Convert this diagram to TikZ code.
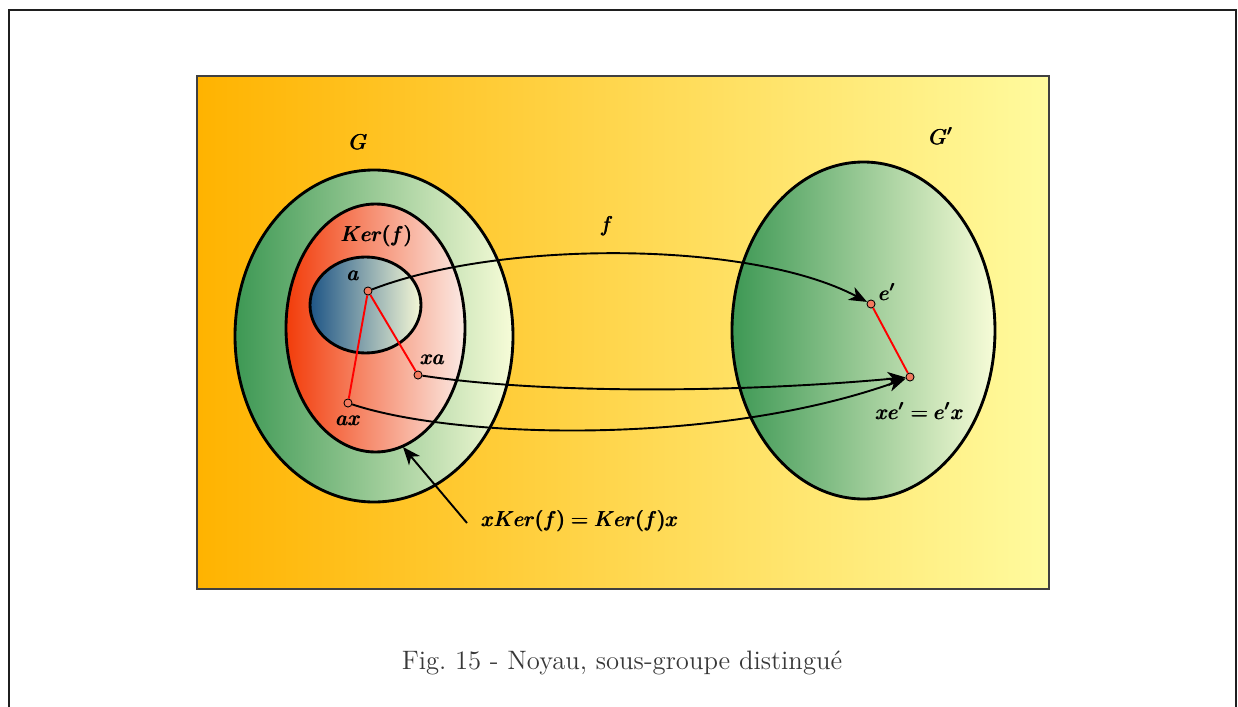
\documentclass[tikz,border=0pt]{standalone}
\usepackage{amsmath}
\usetikzlibrary{arrows.meta}
\definecolor{orangeL}{HTML}{FFB300}
\definecolor{yellowR}{HTML}{FFFB9E}
\definecolor{greenL}{HTML}{3D9854}
\definecolor{greenR}{HTML}{F7FCD8}
\definecolor{redL}{HTML}{F23C0A}
\definecolor{redR}{HTML}{FBEAE4}
\definecolor{blueL}{HTML}{1E5586}
\definecolor{blueR}{HTML}{F5F8D6}
\definecolor{ptfill}{HTML}{F27A5E}
\definecolor{captiongray}{HTML}{383838}
\tikzset{
  setshape/.style={draw=black, line width=1.2pt},
  ptnode/.style={circle, draw=black, line width=0.35pt, fill=ptfill, inner sep=0pt, minimum size=3.4pt},
  mapline/.style={draw=black, line width=0.8pt, -{Stealth[length=7.5pt,width=6pt,inset=2.2pt]}},
  redline/.style={draw=red, line width=0.8pt},
  lbl/.style={inner sep=1pt, font=\fontsize{9}{11}\selectfont}
}
\begin{document}
\begin{tikzpicture}[x=0.42pt,y=-0.42pt]
\useasboundingbox (0,0) rectangle (1238,707);
% outer frame
\draw[line width=0.95pt, black!88] (9,720) -- (9,10) -- (1236,10) -- (1236,720);
% background
\shade[left color=orangeL, right color=yellowR] (197,76) rectangle (1049,589);
\draw[line width=0.5pt, black!75] (197,76) rectangle (1049,589);
% G
\path[setshape, left color=greenL, right color=greenR] (374,336) ellipse [x radius=139, y radius=166];
\path[setshape, left color=redL, right color=redR] (375.5,328) ellipse [x radius=89.5, y radius=124];
\path[setshape, left color=blueL, right color=blueR] (365.5,305) ellipse [x radius=55.5, y radius=48];
% G'
\path[setshape, left color=greenL, right color=greenR] (863.5,330.5) ellipse [x radius=131.5, y radius=168.5];
% labels
\node[lbl] (lG) at (359,142) {$\pmb{G}$};
\node[lbl] (lGp) at (942,136) {$\pmb{G'}$};
\node[lbl] (lKer) at (377,236) {$\pmb{Ker(f)}$};
\node[lbl] (lf) at (607,226) {$\pmb{f}$};
% points
\node[ptnode] (a) at (368,291) {};
\node[ptnode] (xa) at (418,375) {};
\node[ptnode] (ax) at (348,403) {};
\node[ptnode] (ep) at (871,304) {};
\node[ptnode] (xep) at (910,377) {};
\node[lbl] (la) at (354,276) {$\pmb{a}$};
\node[lbl] (lxa) at (433,360) {$\pmb{xa}$};
\node[lbl] (lax) at (349,421) {$\pmb{ax}$};
\node[lbl] (lep) at (888,292) {$\pmb{e'}$};
\node[lbl] (lxep) at (920,411) {$\pmb{xe'=e'x}$};
% red lines
\draw[redline] (a) -- (xa);
\draw[redline] (a) -- (ax);
\draw[redline] (ep) -- (xep);
% maps
\draw[mapline] (a) .. controls (500,240) and (750,240) .. (ep);
\draw[mapline] (xa) .. controls (550,395) and (750,392) .. (xep);
\draw[mapline] (ax) .. controls (460,440) and (720,445) .. (xep);
% annotation
\node[lbl, anchor=west] (ann) at (479,521) {$\pmb{xKer(f)=Ker(f)x}$};
\coordinate (kedge) at (403,447);
\coordinate (annstart) at (467,523);
\draw[mapline] (annstart) -- (kedge);
% caption
\node[text=captiongray, font=\fontsize{11.2}{13}\selectfont] (cap) at (622,663) {Fig.\ 15 - Noyau, sous-groupe distingu\'e};
\end{tikzpicture}
\end{document}
